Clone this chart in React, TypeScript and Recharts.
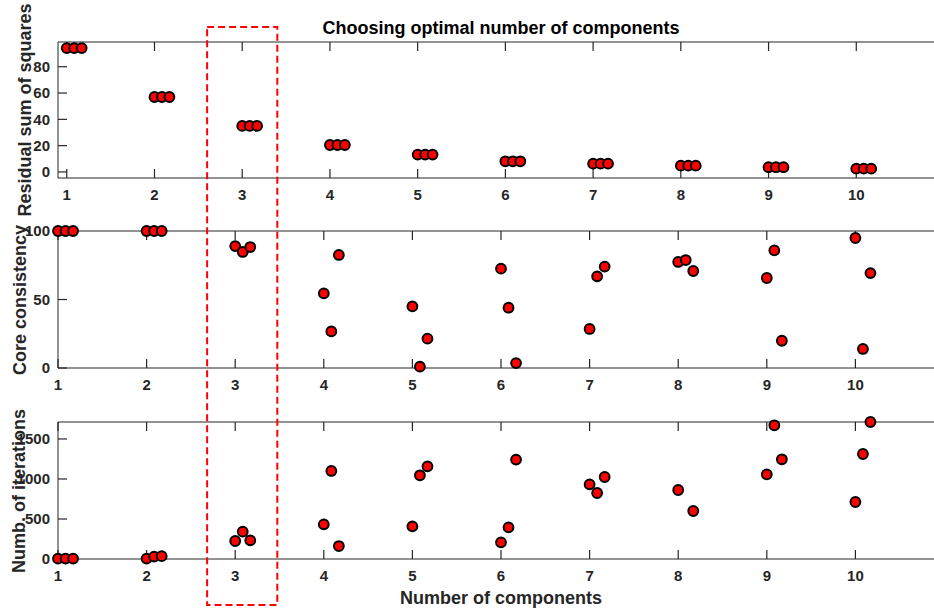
import React from "react"
import { ScatterChart, Scatter, XAxis, YAxis, ReferenceLine } from "recharts"

// components tested, three replicate fits per number of components
const COMPONENTS = [1, 2, 3, 4, 5, 6, 7, 8, 9, 10]
const REP_OFFSETS = [0, 0.085, 0.17]

const RSS = [
    [94.2, 94.2, 94.2],
    [57, 57, 57],
    [35, 35, 35],
    [20.5, 20.5, 20.5],
    [13.2, 13.2, 13.2],
    [8.1, 8.1, 8.1],
    [6.3, 6.3, 6.3],
    [4.8, 4.8, 4.8],
    [3.6, 3.6, 3.6],
    [2.5, 2.5, 2.5],
]

const CORE = [
    [100, 100, 100],
    [100, 100, 100],
    [89, 84.7, 88.3],
    [54.5, 26.7, 82.5],
    [45, 1, 21.4],
    [72.5, 44, 3.6],
    [28.5, 66.9, 74],
    [77.4, 78.8, 70.8],
    [65.7, 85.9, 19.9],
    [94.9, 13.9, 69.3],
]

const ITER = [
    [5, 5, 5],
    [5, 30, 35],
    [225, 342, 233],
    [433, 1100, 162],
    [408, 1046, 1158],
    [208, 396, 1242],
    [933, 825, 1025],
    [862, null, 600],
    [1058, 1671, 1246],
    [712, 1312, 1712],
]

const RSS_TICKS = [0, 20, 40, 60, 80]
const CORE_TICKS = [0, 50, 100]
const ITER_TICKS = [0, 500, 1000, 1500]

const FONT = '"Liberation Sans", Arial, sans-serif'
const AXIS = "#262626"
const TICK_LEN = 9 // inward ticks, MATLAB style
const X_MARGIN = 11
const Y_MARGIN = 8
const X_AXIS_H = 32
const PLOT_W = 886

const toPoints = (rows: (number | null)[][]) =>
    rows.flatMap((reps, i) =>
        reps
            .map((v, j) => (v == null ? null : { x: COMPONENTS[i] + REP_OFFSETS[j], y: v }))
            .filter((p) => p !== null)
    )

const BottomLabel = ({ x, y, payload }: any) => (
    <text x={x} y={y} dy="0.71em" textAnchor="middle" fontFamily={FONT} fontWeight="bold" fontSize={15} fill={AXIS}>
        {payload.value}
    </text>
)

const LeftLabel = ({ x, y, payload }: any) => (
    <text x={x} y={y} dy="0.355em" textAnchor="end" fontFamily={FONT} fontWeight="bold" fontSize={15} fill={AXIS}>
        {payload.value}
    </text>
)

const Dot = ({ cx, cy }: any) => <circle cx={cx} cy={cy} r={4.9} fill="#ff0000" stroke="#000" strokeWidth={2} />

interface PanelProps {
    top: number
    height: number
    marginTop: number
    rows: (number | null)[][]
    xDomain: [number, number]
    yDomain: [number, number]
    yTicks: number[]
}

function Panel({ top, height, marginTop, rows, xDomain, yDomain, yTicks }: PanelProps) {
    const points = toPoints(rows)
    const plotHeight = height - X_AXIS_H - marginTop
    // tick length expressed in data units of each axis
    const xLen = (TICK_LEN * (xDomain[1] - xDomain[0])) / PLOT_W
    const yLen = (TICK_LEN * (yDomain[1] - yDomain[0])) / plotHeight
    return (
        <div style={{ position: "absolute", left: 0, top }}>
            <ScatterChart width={960} height={height} margin={{ top: marginTop - 1, right: 16, bottom: 0, left: 0 }}>
                <XAxis
                    dataKey="x"
                    type="number"
                    domain={xDomain}
                    ticks={COMPONENTS}
                    height={X_AXIS_H}
                    tickSize={0}
                    tickMargin={X_MARGIN}
                    tickLine={false}
                    axisLine={{ stroke: AXIS }}
                    tick={BottomLabel}
                    interval={0}
                />
                <XAxis
                    xAxisId="top"
                    dataKey="x"
                    orientation="top"
                    type="number"
                    domain={xDomain}
                    height={1}
                    tick={false}
                    tickLine={false}
                    axisLine={{ stroke: AXIS }}
                />
                <YAxis
                    dataKey="y"
                    type="number"
                    domain={yDomain}
                    ticks={yTicks}
                    width={58}
                    tickSize={0}
                    tickMargin={Y_MARGIN}
                    tickLine={false}
                    axisLine={{ stroke: AXIS }}
                    tick={LeftLabel}
                    interval={0}
                />
                {COMPONENTS.map((c) => (
                    <ReferenceLine
                        key={`b${c}`}
                        segment={[{ x: c, y: yDomain[0] }, { x: c, y: yDomain[0] + yLen }]}
                        stroke={AXIS}
                        strokeWidth={1.2}
                    />
                ))}
                {COMPONENTS.map((c) => (
                    <ReferenceLine
                        key={`t${c}`}
                        segment={[{ x: c, y: yDomain[1] - yLen }, { x: c, y: yDomain[1] }]}
                        stroke={AXIS}
                        strokeWidth={1.2}
                    />
                ))}
                {yTicks.map((v) => (
                    <ReferenceLine
                        key={`l${v}`}
                        segment={[{ x: xDomain[0], y: v }, { x: xDomain[0] + xLen, y: v }]}
                        stroke={AXIS}
                        strokeWidth={1.2}
                    />
                ))}
                <Scatter data={points} shape={<Dot />} isAnimationActive={false} />
            </ScatterChart>
        </div>
    )
}

export default function App() {
    // dashed highlight around 3 components, in panel 1's x units
    const boxLeft = 58 + (2.6 - 0.9) * (PLOT_W / 10.1)
    const boxRight = 58 + (3.4 - 0.9) * (PLOT_W / 10.1)
    return (
        <div style={{ position: "absolute", left: 0, top: 0, width: 934, height: 612, overflow: "hidden", background: "#fff" }}>
            <Panel top={0} height={210} marginTop={42} rows={RSS} xDomain={[0.9, 11]} yDomain={[-4.6, 98.8]} yTicks={RSS_TICKS} />
            <Panel top={200} height={200} marginTop={31} rows={CORE} xDomain={[1, 11]} yDomain={[0, 100]} yTicks={CORE_TICKS} />
            <Panel top={390} height={201} marginTop={32} rows={ITER} xDomain={[1, 11]} yDomain={[0, 1712]} yTicks={ITER_TICKS} />
            <svg width={934} height={612} style={{ position: "absolute", left: 0, top: 0, pointerEvents: "none" }}>
                <g fontFamily={FONT} fontWeight="bold" fill={AXIS}>
                    <text x={501} y={34} textAnchor="middle" fontSize={18} fill="#000">
                        Choosing optimal number of components
                    </text>
                    <text x={501} y={604} textAnchor="middle" fontSize={18}>
                        Number of components
                    </text>
                    <text x={31} y={110} textAnchor="middle" fontSize={18} transform="rotate(-90 31 110)">
                        Residual sum of squares
                    </text>
                    <text x={26} y={300} textAnchor="middle" fontSize={18} transform="rotate(-90 26 300)">
                        Core consistency
                    </text>
                    <text x={25} y={491} textAnchor="middle" fontSize={18} transform="rotate(-90 25 491)">
                        Numb. of iterations
                    </text>
                </g>
                <rect x={boxLeft} y={27} width={boxRight - boxLeft} height={578} fill="none" stroke="#ff0000" strokeWidth={2} strokeDasharray="7 4" />
            </svg>
        </div>
    )
}
